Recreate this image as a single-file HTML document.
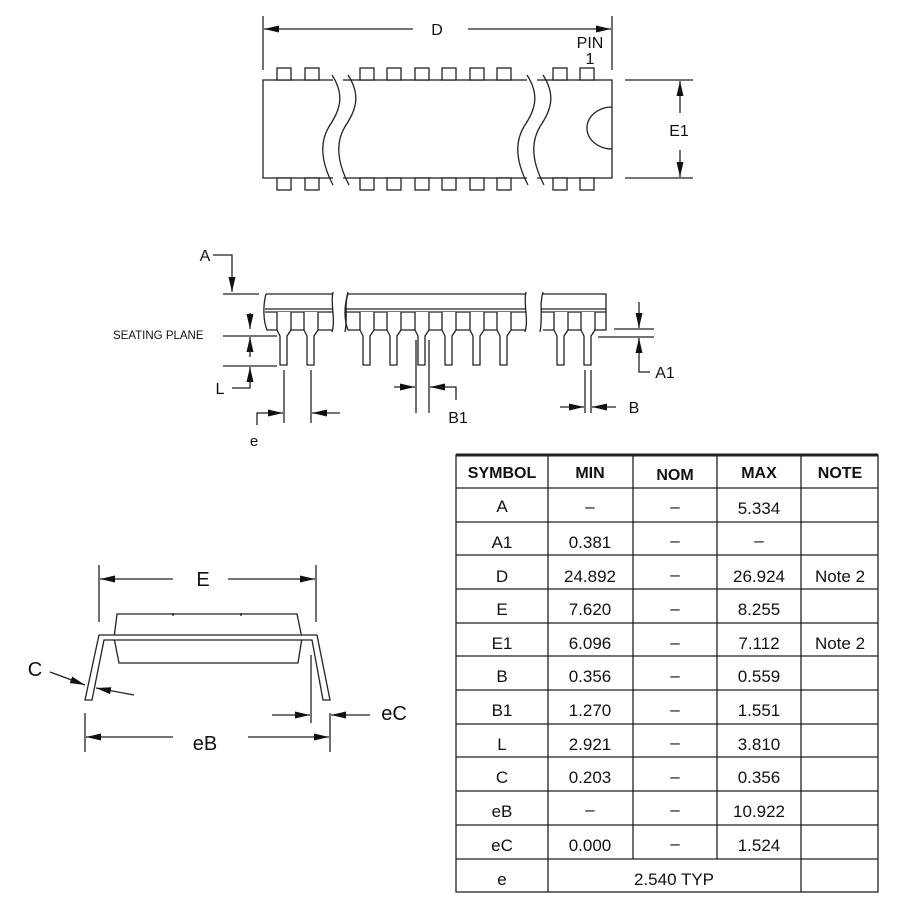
<!DOCTYPE html>
<html><head><meta charset="utf-8"><style>
html,body{margin:0;padding:0;background:#fff;}
svg{display:block;}
text{font-family:"Liberation Sans",sans-serif;fill:#111;}
</style></head><body>
<svg width="900" height="900" viewBox="0 0 900 900" xmlns="http://www.w3.org/2000/svg">
<defs>
<marker id="ar" viewBox="0 0 15 7" refX="15" refY="3.5" markerWidth="15" markerHeight="7" markerUnits="userSpaceOnUse" orient="auto">
<path d="M0,0 L15,3.5 L0,7 z" fill="#111"/></marker>
</defs>
<g stroke="#222" stroke-width="1.3" fill="none">
<!-- TOP VIEW -->
<line x1="263" y1="16" x2="263" y2="70"/><line x1="612" y1="16" x2="612" y2="70"/>
<line x1="413" y1="29" x2="264" y2="29" marker-end="url(#ar)"/>
<line x1="468" y1="29" x2="611" y2="29" marker-end="url(#ar)"/>
<rect x="263" y="80" width="349" height="98" fill="#fff"/>
<g fill="#fff">
<rect x="277" y="68" width="14" height="12"/><rect x="305" y="68" width="14" height="12"/>
<rect x="360" y="68" width="14" height="12"/><rect x="387" y="68" width="14" height="12"/>
<rect x="415" y="68" width="14" height="12"/><rect x="442" y="68" width="14" height="12"/>
<rect x="470" y="68" width="14" height="12"/><rect x="497" y="68" width="14" height="12"/>
<rect x="553" y="68" width="14" height="12"/><rect x="580" y="68" width="14" height="12"/>
<rect x="277" y="178" width="14" height="12"/><rect x="305" y="178" width="14" height="12"/>
<rect x="360" y="178" width="14" height="12"/><rect x="387" y="178" width="14" height="12"/>
<rect x="415" y="178" width="14" height="12"/><rect x="442" y="178" width="14" height="12"/>
<rect x="470" y="178" width="14" height="12"/><rect x="497" y="178" width="14" height="12"/>
<rect x="553" y="178" width="14" height="12"/><rect x="580" y="178" width="14" height="12"/>
</g>
<path d="M333,75 h10 v108 h-10 z" fill="#fff" stroke="none"/>
<path d="M527,75 h10 v108 h-10 z" fill="#fff" stroke="none"/>
<path d="M332,75 C345,95 340,110 330,125 C320,140 320,160 333,185"/>
<path d="M348,75 C361,95 356,110 346,125 C336,140 336,160 349,185"/>
<path d="M527,75 C540,95 535,110 525,125 C515,140 515,160 528,185"/>
<path d="M543,75 C556,95 551,110 541,125 C531,140 531,160 544,185"/>
<path d="M612,107 A25,21 0 0 0 612,149"/>
<line x1="625" y1="80" x2="693" y2="80"/><line x1="625" y1="178" x2="693" y2="178"/>
<line x1="680" y1="113" x2="680" y2="81" marker-end="url(#ar)"/>
<line x1="680" y1="150" x2="680" y2="177" marker-end="url(#ar)"/>

<!-- SIDE VIEW -->
<path d="M213,255 H232 V292" marker-end="url(#ar)"/>
<line x1="223" y1="294" x2="259" y2="294"/>
<g fill="#fff">
<path d="M266,294 H333 M266,294 C263,305 263,320 267,330 H333"/>
<path d="M348,294 H526 M348,294 C344,305 344,320 348,330 H526"/>
<path d="M543,294 H606 V330 H543"/>
</g>
<path d="M333,292 C330,305 336,318 332,332"/><path d="M348,292 C344,305 348,318 345,332"/>
<path d="M526,292 C523,305 529,318 525,332"/><path d="M543,292 C539,305 543,318 540,332"/>
<line x1="265" y1="309" x2="333" y2="309"/><line x1="265" y1="312" x2="333" y2="312"/>
<line x1="346" y1="309" x2="526" y2="309"/><line x1="346" y1="312" x2="526" y2="312"/>
<line x1="541" y1="309" x2="606" y2="309"/><line x1="541" y1="312" x2="606" y2="312"/>
<g fill="#fff">
<path d="M277,312 V330 L280,336 V365 H287 V336 L291,330 V312"/>
<path d="M304,312 V330 L307,336 V365 H314 V336 L318,330 V312"/>
<path d="M360,312 V330 L363,336 V365 H370 V336 L374,330 V312"/>
<path d="M387,312 V330 L390,336 V365 H397 V336 L401,330 V312"/>
<path d="M415,312 V330 L418,336 V365 H425 V336 L429,330 V312"/>
<path d="M442,312 V330 L445,336 V365 H452 V336 L456,330 V312"/>
<path d="M470,312 V330 L473,336 V365 H480 V336 L484,330 V312"/>
<path d="M497,312 V330 L500,336 V365 H507 V336 L511,330 V312"/>
<path d="M554,312 V330 L557,336 V365 H564 V336 L568,330 V312"/>
<path d="M581,312 V330 L584,336 V365 H591 V336 L595,330 V312"/>
</g>
<line x1="223" y1="336" x2="277" y2="336"/>
<line x1="250" y1="313" x2="250" y2="329" marker-end="url(#ar)"/>
<line x1="250" y1="357" x2="250" y2="337" marker-end="url(#ar)"/>
<line x1="223" y1="366" x2="277" y2="366"/>
<path d="M232,388 H250 V367" marker-end="url(#ar)"/>
<!-- e -->
<line x1="284" y1="370" x2="284" y2="423"/><line x1="311" y1="370" x2="311" y2="423"/>
<path d="M257,425 V413 H283" marker-end="url(#ar)"/>
<line x1="340" y1="413" x2="312" y2="413" marker-end="url(#ar)"/>
<!-- B1 -->
<line x1="416" y1="340" x2="416" y2="413"/><line x1="429" y1="340" x2="429" y2="413"/>
<line x1="394" y1="387" x2="415" y2="387" marker-end="url(#ar)"/>
<path d="M456,400 V387 H430" marker-end="url(#ar)"/>
<!-- B -->
<line x1="585" y1="370" x2="585" y2="413"/><line x1="591" y1="370" x2="591" y2="413"/>
<line x1="560" y1="407" x2="584" y2="407" marker-end="url(#ar)"/>
<line x1="616" y1="407" x2="592" y2="407" marker-end="url(#ar)"/>
<!-- A1 -->
<line x1="614" y1="329" x2="654" y2="329"/><line x1="598" y1="337" x2="654" y2="337"/>
<line x1="639" y1="302" x2="639" y2="328" marker-end="url(#ar)"/>
<path d="M650,372 H639 V338" marker-end="url(#ar)"/>

<!-- END VIEW -->
<line x1="99" y1="565" x2="99" y2="622"/><line x1="316" y1="565" x2="316" y2="622"/>
<line x1="173" y1="579" x2="100" y2="579" marker-end="url(#ar)"/>
<line x1="228" y1="579" x2="315" y2="579" marker-end="url(#ar)"/>
<path d="M117,614 H297 L302,638 L298,663 H119 L114,638 Z"/>
<line x1="173" y1="613" x2="173" y2="616"/><line x1="241" y1="613" x2="241" y2="616"/>
<path d="M85,700 L99,635 H317 L330,700 H323 L312,640 H104 L92,700 Z" fill="#fff"/>
<line x1="50" y1="672" x2="85" y2="685" marker-end="url(#ar)"/>
<line x1="134" y1="695" x2="96" y2="688" marker-end="url(#ar)"/>
<line x1="311" y1="655" x2="311" y2="723"/>
<line x1="330" y1="713" x2="330" y2="752"/><line x1="85" y1="713" x2="85" y2="752"/>
<line x1="272" y1="715" x2="310" y2="715" marker-end="url(#ar)"/>
<line x1="370" y1="715" x2="331" y2="715" marker-end="url(#ar)"/>
<line x1="173" y1="737" x2="86" y2="737" marker-end="url(#ar)"/>
<line x1="248" y1="737" x2="329" y2="737" marker-end="url(#ar)"/>

<!-- TABLE -->
<rect x="456" y="455" width="422" height="437"/>
<line x1="456" y1="455" x2="878" y2="455" stroke-width="3"/>
<line x1="548" y1="455" x2="548" y2="892"/>
<line x1="633" y1="455" x2="633" y2="859"/>
<line x1="717" y1="455" x2="717" y2="859"/>
<line x1="801" y1="455" x2="801" y2="892"/>
<line x1="456" y1="488" x2="878" y2="488"/>
<line x1="456" y1="522" x2="878" y2="522"/>
<line x1="456" y1="555" x2="878" y2="555"/>
<line x1="456" y1="589" x2="878" y2="589"/>
<line x1="456" y1="623" x2="878" y2="623"/>
<line x1="456" y1="656" x2="878" y2="656"/>
<line x1="456" y1="690" x2="878" y2="690"/>
<line x1="456" y1="724" x2="878" y2="724"/>
<line x1="456" y1="757" x2="878" y2="757"/>
<line x1="456" y1="791" x2="878" y2="791"/>
<line x1="456" y1="825" x2="878" y2="825"/>
<line x1="456" y1="859" x2="878" y2="859"/>
</g>

<g font-size="16" text-anchor="middle">
<text x="437" y="35">D</text>
<text x="590" y="48">PIN</text><text x="590" y="64">1</text>
<text x="679" y="136">E1</text>
<text x="205" y="261">A</text>
<text x="220" y="394">L</text>
<text x="254" y="446" font-size="15">e</text>
<text x="458" y="423">B1</text>
<text x="634" y="413">B</text>
<text x="665" y="378">A1</text>
</g>
<text x="113" y="339" font-size="11.5" font-family="Liberation Sans">SEATING PLANE</text>
<g font-size="20" text-anchor="middle">
<text x="203" y="586">E</text>
<text x="35" y="676">C</text>
<text x="394" y="720">eC</text>
<text x="205" y="750">eB</text>
</g>
<g font-size="16" text-anchor="middle" font-weight="bold">
<text x="502" y="478">SYMBOL</text><text x="590" y="478">MIN</text><text x="675" y="480">NOM</text><text x="759" y="478">MAX</text><text x="840" y="478">NOTE</text>
</g>
<g font-size="17" text-anchor="middle">
<text x="502" y="512">A</text><text x="590" y="512">–</text><text x="675" y="512">–</text><text x="759" y="514">5.334</text>
<text x="502" y="548">A1</text><text x="590" y="548">0.381</text><text x="675" y="546">–</text><text x="759" y="546">–</text>
<text x="502" y="582">D</text><text x="590" y="582">24.892</text><text x="675" y="580">–</text><text x="759" y="582">26.924</text><text x="840" y="582">Note 2</text>
<text x="502" y="615">E</text><text x="590" y="615">7.620</text><text x="675" y="614">–</text><text x="759" y="615">8.255</text>
<text x="502" y="649">E1</text><text x="590" y="649">6.096</text><text x="675" y="648">–</text><text x="759" y="649">7.112</text><text x="840" y="649">Note 2</text>
<text x="502" y="682">B</text><text x="590" y="682">0.356</text><text x="675" y="681">–</text><text x="759" y="682">0.559</text>
<text x="502" y="716">B1</text><text x="590" y="716">1.270</text><text x="675" y="715">–</text><text x="759" y="716">1.551</text>
<text x="502" y="750">L</text><text x="590" y="750">2.921</text><text x="675" y="748">–</text><text x="759" y="750">3.810</text>
<text x="502" y="783">C</text><text x="590" y="783">0.203</text><text x="675" y="782">–</text><text x="759" y="783">0.356</text>
<text x="502" y="817">eB</text><text x="590" y="815">–</text><text x="675" y="815">–</text><text x="759" y="817">10.922</text>
<text x="502" y="851">eC</text><text x="590" y="851">0.000</text><text x="675" y="849">–</text><text x="759" y="851">1.524</text>
<text x="502" y="885">e</text><text x="674" y="885">2.540 TYP</text>
</g>
</svg>
</body></html>
